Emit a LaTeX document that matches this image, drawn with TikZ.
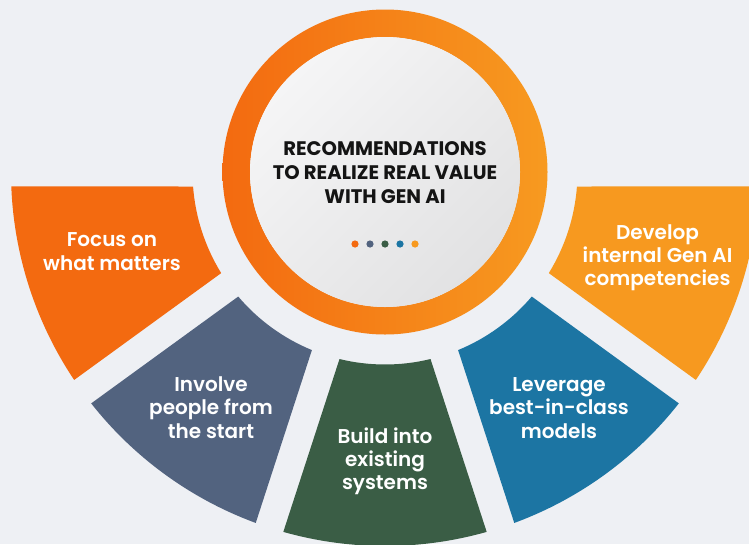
\documentclass[tikz,border=0pt]{standalone}
\usepackage{fontspec}
\setmainfont{Poppins}
\newfontfamily\psemi{Poppins SemiBold}
\newfontfamily\pbold{Poppins Bold}
\usetikzlibrary{calc}
\definecolor{bg}{HTML}{EEF0F4}
\definecolor{cOrange}{HTML}{F36A10}
\definecolor{cSlate}{HTML}{52637F}
\definecolor{cGreen}{HTML}{3A5D45}
\definecolor{cBlue}{HTML}{1C75A3}
\definecolor{cAmber}{HTML}{F7991F}
\definecolor{ringL}{HTML}{F36A10}
\definecolor{ringR}{HTML}{F79A20}
\definecolor{discA}{HTML}{F5F5F6}
\definecolor{discB}{HTML}{E2E2E3}
\begin{document}
\begin{tikzpicture}[x=1pt,y=1pt,
  titletext/.style={font=\pbold\fontsize{19.6}{24}\selectfont, align=center, anchor=base, text=black!92, inner sep=0},
  segtext/.style={font=\psemi\fontsize{20}{23.2}\selectfont, align=center, anchor=base, text=white, inner sep=0}]
\useasboundingbox (0,0) rectangle (749,-544);
\fill[bg] (0,0) rectangle (749,-544);
\coordinate (C) at (385,-172);
\def\Ro{374}
\def\Ri{192.5}
\pgfmathsetmacro\offo{asin(14.5/374)}
\pgfmathsetmacro\offi{asin(14.5/192.5)}
% fan segments
\foreach \i/\col in {0/cOrange,1/cSlate,2/cGreen,3/cBlue,4/cAmber}{
  \pgfmathsetmacro\aa{180+36*\i+\offo}
  \pgfmathsetmacro\ab{216+36*\i-\offo}
  \pgfmathsetmacro\bb{216+36*\i-\offi}
  \pgfmathsetmacro\ba{180+36*\i+\offi}
  \fill[\col] ($(C)+(\aa:\Ro)$) arc[start angle=\aa, end angle=\ab, radius=\Ro]
     -- ($(C)+(\bb:\Ri)$) arc[start angle=\bb, end angle=\ba, radius=\Ri] -- cycle;
}
% central ring and disc
\shade[left color=ringL, right color=ringR, even odd rule] (C) circle[radius=162.5] (C) circle[radius=135];
\shade[top color=discA, bottom color=discB, shading angle=45] (C) circle[radius=135];
% dots
\foreach \k/\col in {0/cOrange,1/cSlate,2/cGreen,3/cBlue,4/cAmber}{
  \fill[\col] (355+15*\k,-244) circle[radius=3.6];
}
% texts (anchor base = baseline of last line)
\node[titletext] (title) at (385,-203) {RECOMMENDATIONS\\TO REALIZE REAL VALUE\\WITH GEN AI};
\node[segtext] (s1) at (112,-270) {Focus on\\what matters};
\node[segtext] (s2) at (211,-438) {Involve\\people from\\the start};
\node[segtext] (s3) at (385,-489.5) {Build into\\existing\\systems};
\node[segtext] (s4) at (559,-438) {Leverage\\best-in-class\\models};
\node[segtext] (s5) at (657.5,-285.7) {Develop\\internal Gen AI\\competencies};
\end{tikzpicture}
\end{document}
